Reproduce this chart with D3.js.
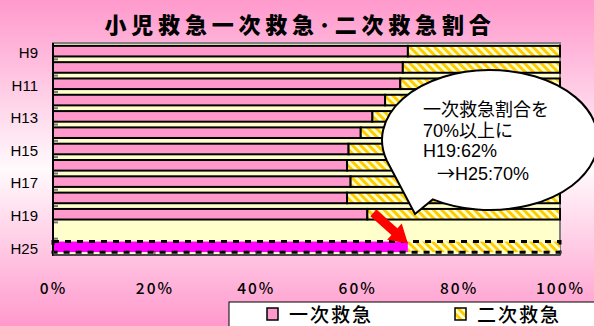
<!DOCTYPE html>
<html><head><meta charset="utf-8">
<script src="https://cdn.jsdelivr.net/npm/d3@7"></script>
<style>body{margin:0;overflow:hidden;background:#fff}</style>
</head><body>
<script>
const title = "小児救急一次救急･二次救急割合";
const categories = ["H9","H10","H11","H12","H13","H14","H15","H16","H17","H18","H19","H20-24","H25"];
const primaryPct = [70, 69, 68.5, 65.5, 63, 60.7, 58.3, 58, 58.7, 58, 62, null, 70];
const secondaryPct = [30, 31, 31.5, 34.5, 37, 39.3, 41.7, 42, 41.3, 42, 38, null, 30];
const yTickLabels = ["H9","H11","H13","H15","H17","H19","H25"];
const xTicks = [0, 20, 40, 60, 80, 100];
const seriesNames = ["一次救急", "二次救急"];
const highlightCategory = "H25";
const calloutLines = ["一次救急割合を", "70%以上に", "H19:62%", "H25:70%"];

const W = 594, H = 326;
const svg = d3.select("body").append("svg").attr("width", W).attr("height", H);
const defs = svg.append("defs");

const bg = defs.append("linearGradient").attr("id", "bg").attr("x1", 0).attr("y1", 0).attr("x2", 0).attr("y2", 1);
bg.append("stop").attr("offset", 0).attr("stop-color", "#ff99cc");
bg.append("stop").attr("offset", 0.52).attr("stop-color", "#fffafc");
bg.append("stop").attr("offset", 1).attr("stop-color", "#ff99cc");

const pat = defs.append("pattern").attr("id", "hatch").attr("patternUnits", "userSpaceOnUse")
  .attr("width", 5.8).attr("height", 5.8).attr("patternTransform", "rotate(-45)");
pat.append("rect").attr("width", 5.8).attr("height", 5.8).attr("fill", "#ffffcc");
pat.append("rect").attr("width", 2.9).attr("height", 5.8).attr("fill", "#ffcc00");

svg.append("rect").attr("width", W).attr("height", H).attr("fill", "url(#bg)");

const data = categories.map((c, i) => ({ cat: c, p: primaryPct[i], s: secondaryPct[i] }));

const x = d3.scaleLinear().domain([0, 100]).range([53, 560]);
const y = d3.scaleBand().domain(categories).range([43, 255]).paddingInner(0.35).paddingOuter(0.175);

// plot area
svg.append("rect").attr("x", x(0)).attr("y", 43).attr("width", x(100) - x(0)).attr("height", 212)
  .attr("fill", "#ffffcc").attr("stroke", "#808080").attr("stroke-width", 2);

// inside category tick marks
const step = y.step();
const bounds = d3.range(1, categories.length).map(i => 43 + i * step);
svg.append("g").selectAll("line").data(bounds).join("line")
  .attr("x1", x(0)).attr("x2", x(0) + 5).attr("y1", d => d).attr("y2", d => d)
  .attr("stroke", "#777").attr("stroke-width", 2);

const bars = data.filter(d => d.p != null);
const normal = bars.filter(d => d.cat !== highlightCategory);
const hi = bars.filter(d => d.cat === highlightCategory);

const g = svg.append("g");
g.selectAll("rect.p").data(normal).join("rect").attr("class", "p")
  .attr("x", x(0)).attr("y", d => y(d.cat)).attr("width", d => x(d.p) - x(0)).attr("height", y.bandwidth())
  .attr("fill", "#ff99cc").attr("stroke", "#000").attr("stroke-width", 2);
g.selectAll("rect.s").data(normal).join("rect").attr("class", "s")
  .attr("x", d => x(d.p)).attr("y", d => y(d.cat)).attr("width", d => x(d.p + d.s) - x(d.p)).attr("height", y.bandwidth())
  .attr("fill", "url(#hatch)").attr("stroke", "#000").attr("stroke-width", 2);

// highlighted bar
g.selectAll("rect.hp").data(hi).join("rect").attr("class", "hp")
  .attr("x", x(0)).attr("y", d => y(d.cat)).attr("width", d => x(d.p) - x(0)).attr("height", y.bandwidth())
  .attr("fill", "#ff00ff");
g.selectAll("rect.hs").data(hi).join("rect").attr("class", "hs")
  .attr("x", d => x(d.p)).attr("y", d => y(d.cat)).attr("width", d => x(d.p + d.s) - x(d.p)).attr("height", y.bandwidth())
  .attr("fill", "url(#hatch)");
g.selectAll("rect.hb").data(hi).join("rect").attr("class", "hb")
  .attr("x", x(0)).attr("y", d => y(d.cat)).attr("width", d => x(d.p + d.s) - x(0)).attr("height", y.bandwidth())
  .attr("fill", "none").attr("stroke", "#000").attr("stroke-width", 3).attr("stroke-dasharray", "6,6");

// axes lines
svg.append("line").attr("x1", x(0)).attr("x2", x(0)).attr("y1", 43).attr("y2", 256).attr("stroke", "#000").attr("stroke-width", 2);
svg.append("line").attr("x1", x(0)).attr("x2", x(100)).attr("y1", 255).attr("y2", 255).attr("stroke", "#333").attr("stroke-width", 1.5);

// x axis via d3
const xAxis = d3.axisBottom(x).tickValues(xTicks).tickFormat(d => d + "%").tickSize(-4).tickPadding(30);
const xa = svg.append("g").attr("transform", "translate(0,255)").call(xAxis);
xa.select(".domain").remove();
xa.selectAll(".tick line").attr("stroke", "#333").attr("stroke-width", 1);
xa.selectAll(".tick text").attr("font-family", "'Noto Sans CJK JP', sans-serif").attr("font-size", 15.5)
  .attr("font-weight", 500).attr("fill", "#000").attr("letter-spacing", 2).attr("dy", 0).attr("y", 39);

// y axis via d3
const yAxis = d3.axisLeft(y).tickValues(yTickLabels).tickSize(0).tickPadding(15);
const ya = svg.append("g").attr("transform", `translate(${x(0)},0)`).call(yAxis);
ya.select(".domain").remove();
ya.selectAll(".tick text").attr("font-family", "'Liberation Sans', Arial, sans-serif").attr("font-size", 15)
  .attr("fill", "#000").attr("dy", "0.45em");

// title
svg.append("text").attr("x", 300).attr("y", 33).attr("text-anchor", "middle")
  .attr("font-family", "'Noto Sans CJK JP', sans-serif").attr("font-weight", 900).attr("font-size", 22)
  .attr("letter-spacing", 4.8).text(title);

// callout bubble
const cx = 490, cy = 140, rx = 108, ry = 70;
const pt = a => [cx + rx * Math.cos(a * Math.PI / 180), cy + ry * Math.sin(a * Math.PI / 180)];
const tip = [415, 214];
const p1 = pt(122), p2 = pt(163);
svg.append("path")
  .attr("d", `M${tip[0]},${tip[1]} L${p1[0]},${p1[1]} A${rx},${ry} 0 1 0 ${p2[0]},${p2[1]} Z`)
  .attr("fill", "#fff").attr("stroke", "#000").attr("stroke-width", 2);
const ct = svg.append("g").attr("font-family", "'Liberation Sans', 'Noto Sans CJK JP', sans-serif").attr("font-size", 18).attr("fill", "#000");
const lineX = [423, 423, 423, 437];
const lineY = [116, 137, 157, 180];
calloutLines.forEach((t, i) => {
  const tx = ct.append("text").attr("x", lineX[i]).attr("y", lineY[i]);
  if (i === 3) tx.append("tspan").attr("font-family", "'Noto Sans CJK JP', sans-serif").text("→");
  tx.append("tspan").text(t);
});

// red arrow from H19 bar to H25 target
const h19 = data.find(d => d.cat === "H19");
const h25 = data.find(d => d.cat === "H25");
const a0 = [x(h19.p) + 6, y("H19") + 4];
const a1 = [x(h25.p), y("H25") + 2];
const ang = Math.atan2(a1[1] - a0[1], a1[0] - a0[0]);
const len = Math.hypot(a1[0] - a0[0], a1[1] - a0[1]);
const headL = 18, headW = 11, shaftW = 4.5;
const local = [[0, -shaftW], [len - headL, -shaftW], [len - headL, -headW], [len, 0], [len - headL, headW], [len - headL, shaftW], [0, shaftW]];
const pts = local.map(([u, v]) => [a0[0] + u * Math.cos(ang) - v * Math.sin(ang), a0[1] + u * Math.sin(ang) + v * Math.cos(ang)]);
svg.append("path").attr("d", "M" + pts.map(p => p.join(",")).join("L") + "Z").attr("fill", "#ff0000");

// legend
const lg = svg.append("g");
lg.append("rect").attr("x", 229).attr("y", 302).attr("width", 380).attr("height", 40)
  .attr("fill", "#fff").attr("stroke", "#000").attr("stroke-width", 1);
const legFills = ["#ff99cc", "url(#hatch)"];
const legX = [267, 455];
seriesNames.forEach((n, i) => {
  lg.append("rect").attr("x", legX[i]).attr("y", 308).attr("width", 11).attr("height", 12)
    .attr("fill", legFills[i]).attr("stroke", "#000").attr("stroke-width", 1.5);
  lg.append("text").attr("x", legX[i] + 22).attr("y", 322)
    .attr("font-family", "'Noto Sans CJK JP', sans-serif").attr("font-size", 19).attr("font-weight", 500).attr("letter-spacing", 2)
    .text(n);
});
</script>
</body></html>
